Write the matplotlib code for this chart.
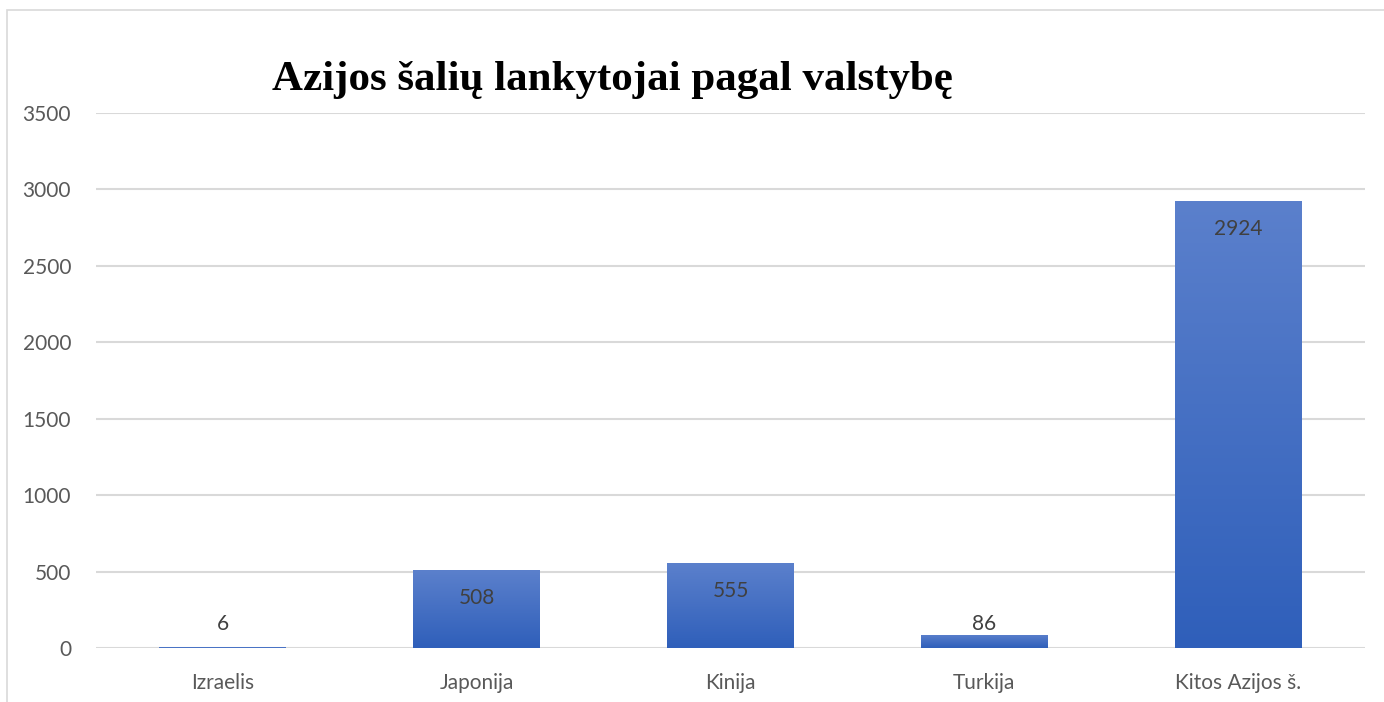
import matplotlib as mpl
mpl.use('Agg')
import matplotlib.pyplot as plt
import numpy as np
from matplotlib.patches import Rectangle

categories = ["Izraelis", "Japonija", "Kinija", "Turkija", "Kitos Azijos š."]
values = [6, 508, 555, 86, 2924]
yticks = [0, 500, 1000, 1500, 2000, 2500, 3000, 3500]
title = "Azijos šalių lankytojai pagal valstybę"

plt.rcParams['font.family'] = ['Lato', 'DejaVu Sans']

fig = plt.figure(figsize=(13.84, 7.02), dpi=100)
ax = fig.add_axes([0.0694, 0.0769, 0.9169, 0.7621])

# chart border
fig.patches.append(Rectangle((7 / 1384, -0.01), 1.0, (702 - 10) / 702 + 0.01,
                             transform=fig.transFigure, fill=False,
                             edgecolor='#D9D9D9', linewidth=1.2))

x = np.arange(len(categories))
bars = ax.bar(x, values, width=0.5, color='#4472C4', zorder=2)

# vertical gradient on each bar
grad = np.linspace(0, 1, 256).reshape(-1, 1)
cmap = mpl.colors.LinearSegmentedColormap.from_list('g', ['#2F5FBA', '#5B80CC'])
for b in bars:
    x0, w, h = b.get_x(), b.get_width(), b.get_height()
    im = ax.imshow(grad, extent=(x0, x0 + w, 0, h), origin='lower', cmap=cmap,
                   aspect='auto', zorder=3)
    im.set_clip_path(b)

for xi, v in zip(x, values):
    if v > 300:
        # inside end
        ax.annotate(str(v), (xi, v), xytext=(0, -28), textcoords='offset pixels',
                    ha='center', va='center', fontsize=15, color='#404040', zorder=5)
    else:
        # small bars: label sits just above the baseline
        ax.annotate(str(v), (xi, 0), xytext=(0, 24), textcoords='offset pixels',
                    ha='center', va='center', fontsize=15, color='#404040', zorder=5)

ax.set_xlim(-0.5, 4.5)
ax.set_ylim(0, 3500)
ax.set_xticks(x)
ax.set_xticklabels(categories)
ax.set_yticks(yticks)
ax.grid(axis='y', color='#D9D9D9', linewidth=1.5, zorder=0)
ax.set_axisbelow(True)
for s in ax.spines.values():
    s.set_visible(False)
ax.tick_params(length=0, labelsize=15, labelcolor='#595959')
ax.tick_params(axis='y', pad=18)
ax.tick_params(axis='x', pad=18)

fig.text(612 / 1384, 1 - 80 / 702, title, ha='center', va='center',
         fontsize=31, fontweight='bold', family='Liberation Serif')

plt.savefig('out.png', dpi=100)
